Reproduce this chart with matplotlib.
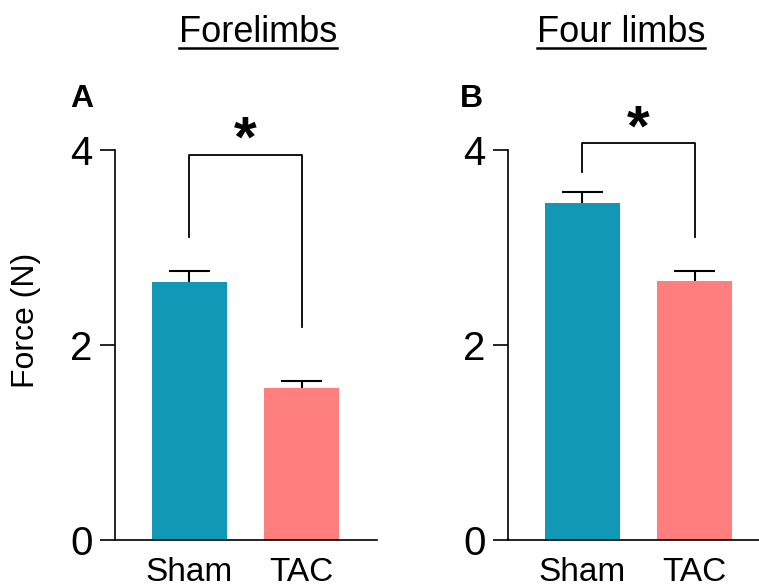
import matplotlib
matplotlib.use("Agg")
import matplotlib.pyplot as plt
from matplotlib.lines import Line2D

plt.rcParams['font.family'] = ['Liberation Sans', 'DejaVu Sans']

groups = ["Sham", "TAC"]
fore_mean = [2.65, 1.56]
fore_err = [0.11, 0.07]
four_mean = [3.46, 2.66]
four_err = [0.11, 0.10]
colors = ["#1098B4", "#FF7F7F"]

fig = plt.figure(figsize=(7.59, 5.84), dpi=100)

W, H = 759, 584


def panel(left_px, means, errs, br_top, br_left, br_right):
    ax = fig.add_axes([left_px / W, 44 / H, 262 / W, 390 / H])
    x = [0, 1]
    ax.bar(x, means, width=0.67, color=colors, zorder=2)
    # upper error bars only
    tops = [m + e for m, e in zip(means, errs)]
    ax.vlines(x, means, tops, color='black', lw=1.5, zorder=1)
    for xi, t in zip(x, tops):
        ax.plot([xi - 0.17, xi + 0.17], [t, t], color='black', lw=1.5)
    # significance bracket
    ax.plot([0, 0, 1, 1], [br_left, br_top, br_top, br_right], color='black',
            lw=1.3, clip_on=False)
    ax.text(0.5, br_top - 0.02, "*", ha='center', va='baseline', fontsize=42,
            fontweight='bold')
    ax.set_xlim(-0.665, 1.674)
    ax.set_ylim(0, 4)
    ax.set_yticks([0, 2, 4])
    ax.set_xticks(x)
    ax.set_xticklabels(groups, fontsize=24)
    ax.tick_params(axis='x', length=0, pad=12)
    ax.tick_params(axis='y', length=11, width=1.2, labelsize=29, pad=5)
    for s in ['top', 'right']:
        ax.spines[s].set_visible(False)
    for s in ['left', 'bottom']:
        ax.spines[s].set_linewidth(1.2)
    return ax


axA = panel(115, fore_mean, fore_err, 3.95, 3.11, 2.18)
axB = panel(508, four_mean, four_err, 4.07, 3.77, 3.11)

fig.text(26 / W, 1 - 320 / H, "Force (N)", rotation=90, ha='center',
         va='center', fontsize=23)

fig.text(70 / W, 1 - 107 / H, "A", fontsize=23, fontweight='bold')
fig.text(460 / W, 1 - 107 / H, "B", fontsize=23, fontweight='bold')

titles = []
for cx, t in [(258, "Forelimbs"), (621, "Four limbs")]:
    titles.append(fig.text(cx / W, 1 - 42 / H, t, ha='center',
                           va='baseline', fontsize=26))

fig.canvas.draw()
r = fig.canvas.get_renderer()
for t in titles:
    bb = t.get_window_extent(r).transformed(fig.transFigure.inverted())
    fig.add_artist(Line2D([bb.x0, bb.x1], [1 - 48 / H, 1 - 48 / H],
                          color='black', lw=1.8, transform=fig.transFigure))

fig.savefig("out.png", dpi=100)
